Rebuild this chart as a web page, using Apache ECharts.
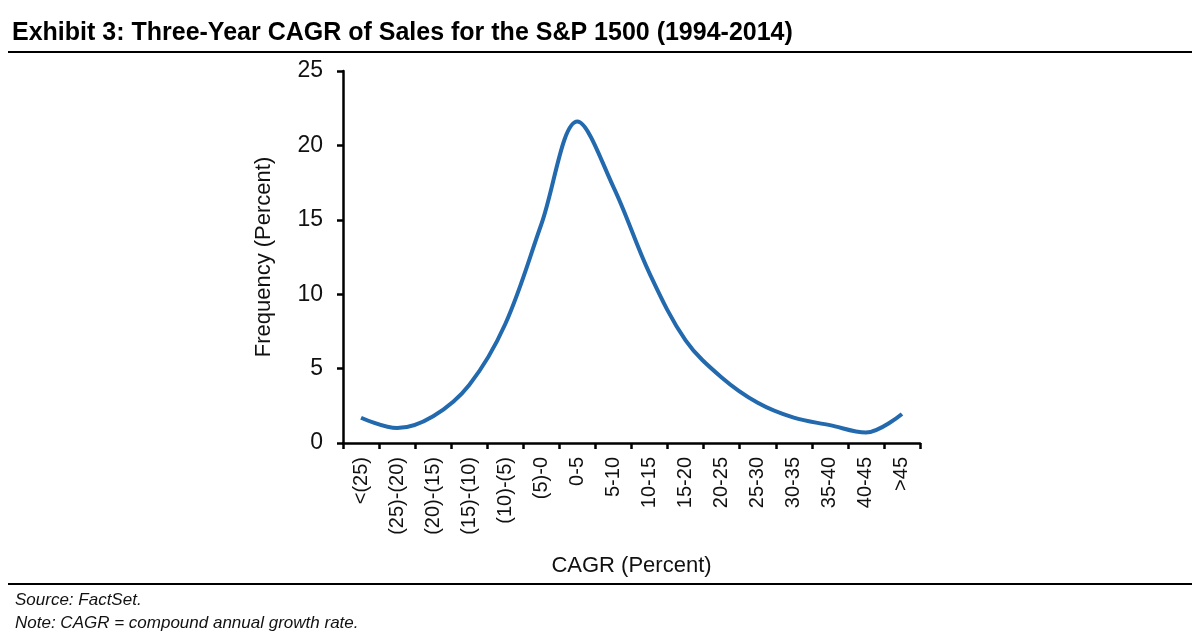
<!DOCTYPE html>
<html>
<head>
<meta charset="utf-8">
<script src="https://cdn.jsdelivr.net/npm/echarts@6/dist/echarts.min.js"></script>
<style>
  html, body { margin: 0; padding: 0; background: #fff; }
  #chart { width: 1200px; height: 644px; }
</style>
</head>
<body>
<div id="chart"></div>
<script>
// CAGR buckets (percent)
const categories = ['<(25)', '(25)-(20)', '(20)-(15)', '(15)-(10)', '(10)-(5)', '(5)-0', '0-5', '5-10',
  '10-15', '15-20', '20-25', '25-30', '30-35', '35-40', '40-45', '>45'];
// frequency (percent)
const frequency = [1.7, 1.0, 1.8, 3.9, 8.0, 14.7, 21.6, 17.2, 11.4, 6.9, 4.4, 2.7, 1.7, 1.2, 0.7, 1.95];
const yTicks = { min: 0, max: 25, step: 5 };

const font = '"Liberation Sans", Arial, sans-serif';
const chart = echarts.init(document.getElementById('chart'));

chart.setOption({
  backgroundColor: '#fff',
  animation: false,
  title: {
    text: 'Exhibit 3: Three-Year CAGR of Sales for the S&P 1500 (1994-2014)',
    left: 12,
    top: 21,
    padding: 0,
    textStyle: { fontFamily: font, fontSize: 25, fontWeight: 'bold', color: '#000' }
  },
  grid: { left: 343, right: 280, top: 71, bottom: 201 },
  xAxis: {
    type: 'category',
    data: categories,
    boundaryGap: true,
    name: 'CAGR (Percent)',
    nameLocation: 'middle',
    nameGap: 112,
    nameTextStyle: { fontFamily: font, fontSize: 22, color: '#111' },
    axisLine: { lineStyle: { color: '#000', width: 2.5 } },
    axisTick: { show: true, length: 6, lineStyle: { color: '#000', width: 2.5 } },
    axisLabel: { interval: 0, rotate: 90, margin: 14, fontFamily: font, fontSize: 20, color: '#111' },
    splitLine: { show: false }
  },
  yAxis: {
    type: 'value',
    min: yTicks.min,
    max: yTicks.max,
    interval: yTicks.step,
    name: 'Frequency (Percent)',
    nameLocation: 'middle',
    nameGap: 68,
    nameTextStyle: { fontFamily: font, fontSize: 22, color: '#111' },
    axisLine: { show: true, lineStyle: { color: '#000', width: 2.5 } },
    axisTick: { show: true, length: 6, lineStyle: { color: '#000', width: 2.5 } },
    axisLabel: { margin: 20, fontFamily: font, fontSize: 23, color: '#111' },
    splitLine: { show: false }
  },
  series: [{
    type: 'line',
    data: frequency,
    smooth: 0.35,
    symbol: 'none',
    lineStyle: { color: '#2269ad', width: 4 }
  }],
  graphic: [
    { type: 'line', shape: { x1: 8, y1: 52, x2: 1192, y2: 52 }, style: { stroke: '#000', lineWidth: 2 } },
    { type: 'line', shape: { x1: 8, y1: 584, x2: 1192, y2: 584 }, style: { stroke: '#000', lineWidth: 2 } },
    { type: 'text', x: 15, y: 609, style: { text: 'Source: FactSet.', font: 'italic 17px ' + font, fill: '#111', verticalAlign: 'bottom' } },
    { type: 'text', x: 15, y: 632, style: { text: 'Note: CAGR = compound annual growth rate.', font: 'italic 17px ' + font, fill: '#111', verticalAlign: 'bottom' } }
  ]
});
</script>
</body>
</html>
